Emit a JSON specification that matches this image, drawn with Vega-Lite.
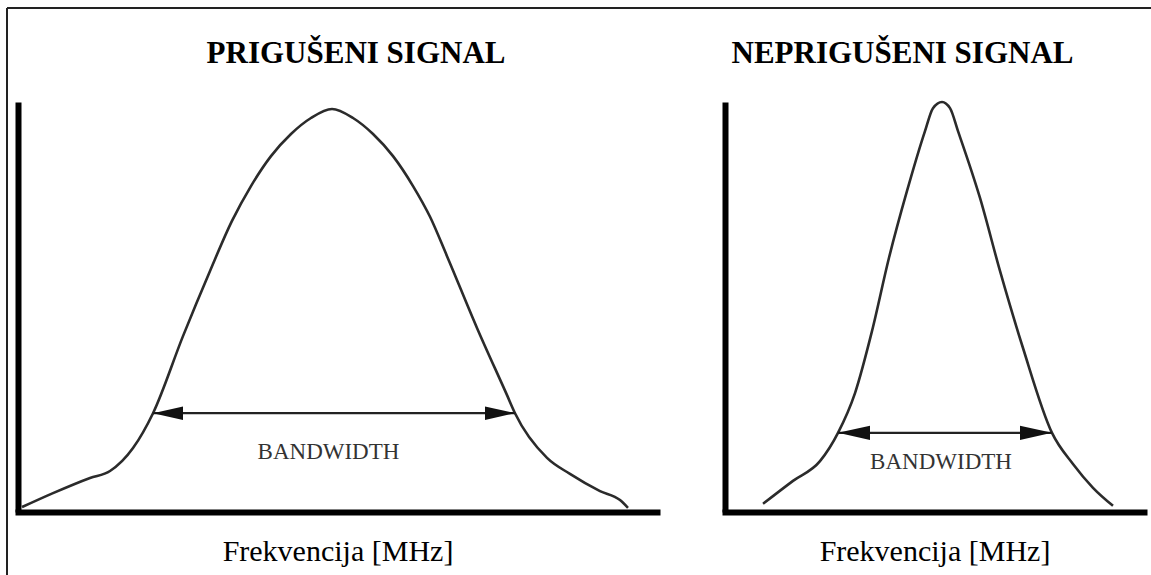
{
  "$schema": "https://vega.github.io/schema/vega-lite/v6.json",
  "padding": {"left": 6, "top": 6, "right": 0, "bottom": 0},
  "background": "white",
  "bounds": "flush",
  "spacing": 68,
  "config": {
    "view": {"stroke": null},
    "font": "Liberation Serif",
    "axis": {"labels": false, "ticks": false, "grid": false, "domainColor": "#000", "domainWidth": 6, "titleFont": "Liberation Serif", "titleFontSize": 30, "titleFontWeight": "normal", "titleColor": "#000"},
    "axisX": {"domainCap": "square", "titleBaseline": "alphabetic", "titleY": 48},
    "style": {"guide-title": {"font": "Liberation Serif", "fontSize": 30, "fontWeight": "normal"}}
  },
  "resolve": {"scale": {"x": "independent", "y": "independent"}},
  "datasets": {
    "frame": [
      {"f": -1.721, "f2": 178.7, "a": 1.2293, "a2": 1.2293},
      {"f": -1.721, "f2": -1.721, "a": 1.2293, "a2": -0.17}
    ],
    "damped_title": [{"f": 52.9, "a": 1.095, "label": "PRIGUŠENI SIGNAL"}],
    "damped": [
      {"f": 0.63, "a": 0.012}, {"f": 5.48, "a": 0.046}, {"f": 11.27, "a": 0.083}, {"f": 14.4, "a": 0.1},
      {"f": 18.0, "a": 0.156}, {"f": 21.13, "a": 0.241}, {"f": 25.82, "a": 0.429}, {"f": 30.05, "a": 0.588},
      {"f": 33.49, "a": 0.71}, {"f": 36.46, "a": 0.795}, {"f": 39.59, "a": 0.868}, {"f": 42.72, "a": 0.922},
      {"f": 45.85, "a": 0.961}, {"f": 49.14, "a": 0.983}, {"f": 52.43, "a": 0.961}, {"f": 55.56, "a": 0.922},
      {"f": 58.69, "a": 0.868}, {"f": 61.82, "a": 0.795}, {"f": 64.48, "a": 0.72}, {"f": 67.14, "a": 0.624},
      {"f": 71.83, "a": 0.449}, {"f": 76.53, "a": 0.285}, {"f": 77.78, "a": 0.241}, {"f": 82.79, "a": 0.132},
      {"f": 86.38, "a": 0.093}, {"f": 91.08, "a": 0.051}, {"f": 94.21, "a": 0.029}, {"f": 95.46, "a": 0.01}
    ],
    "damped_band": [{"f": 21.13, "f2": 77.78, "a": 0.241}],
    "damped_heads": [{"f": 21.13, "a": 0.241, "dir": "left"}, {"f": 77.78, "a": 0.241, "dir": "right"}],
    "damped_label": [{"f": 48.59, "a": 0.129, "label": "BANDWIDTH"}],
    "undamped_title": [{"f": 42.36, "a": 1.095, "label": "NEPRIGUŠENI SIGNAL"}],
    "undamped": [
      {"f": 9.07, "a": 0.02}, {"f": 16.23, "a": 0.076}, {"f": 22.67, "a": 0.124}, {"f": 26.97, "a": 0.193},
      {"f": 31.03, "a": 0.29}, {"f": 35.08, "a": 0.441}, {"f": 39.14, "a": 0.62}, {"f": 43.44, "a": 0.783},
      {"f": 47.73, "a": 0.929}, {"f": 49.64, "a": 0.985}, {"f": 51.79, "a": 1.0}, {"f": 53.7, "a": 0.985},
      {"f": 55.61, "a": 0.929}, {"f": 60.86, "a": 0.766}, {"f": 65.63, "a": 0.588}, {"f": 71.12, "a": 0.4},
      {"f": 78.04, "a": 0.193}, {"f": 83.05, "a": 0.117}, {"f": 87.83, "a": 0.059}, {"f": 92.6, "a": 0.015}
    ],
    "undamped_band": [{"f": 26.97, "f2": 78.04, "a": 0.193}],
    "undamped_heads": [{"f": 26.97, "a": 0.193, "dir": "left"}, {"f": 78.04, "a": 0.193, "dir": "right"}],
    "undamped_label": [{"f": 51.55, "a": 0.105, "label": "BANDWIDTH"}]
  },
  "hconcat": [
    {
      "width": 639,
      "height": 410,
      "encoding": {
        "x": {"field": "f", "type": "quantitative", "scale": {"domain": [0, 100], "nice": false, "zero": false}, "axis": {"title": "Frekvencija [MHz]", "titleFont": "Liberation Serif", "titleFontSize": 30, "titleFontWeight": "normal"}},
        "y": {"field": "a", "type": "quantitative", "scale": {"domain": [0, 1], "nice": false, "zero": false}, "axis": {"title": null}}
      },
      "layer": [
        {"data": {"name": "frame"}, "mark": {"type": "rule", "color": "#222", "strokeWidth": 2}, "encoding": {"x2": {"field": "f2"}, "y2": {"field": "a2"}}},
        {"data": {"name": "damped_title"}, "mark": {"type": "text", "font": "Liberation Serif", "fontSize": 31, "fontWeight": "bold", "color": "#000", "baseline": "alphabetic", "align": "center"}, "encoding": {"text": {"field": "label"}}},
        {"data": {"name": "damped"}, "mark": {"type": "line", "interpolate": "monotone", "color": "#2b2b2b", "strokeWidth": 2.6}, "encoding": {}},
        {"data": {"name": "damped_band"}, "mark": {"type": "rule", "color": "#222", "strokeWidth": 2.2}, "encoding": {"x2": {"field": "f2"}}},
        {"data": {"name": "damped_heads"}, "mark": {"type": "point", "filled": true, "color": "#111", "opacity": 1, "size": 900, "strokeWidth": 0}, "encoding": {"shape": {"field": "dir", "type": "nominal", "scale": {"domain": ["left", "right"], "range": ["M0,0L2,-0.45L2,0.45Z", "M0,0L-2,-0.45L-2,0.45Z"]}, "legend": null}}},
        {"data": {"name": "damped_label"}, "mark": {"type": "text", "font": "Liberation Serif", "fontSize": 23, "color": "#333", "baseline": "alphabetic", "align": "center"}, "encoding": {"text": {"field": "label"}}}
      ]
    },
    {
      "width": 419,
      "height": 410,
      "encoding": {
        "x": {"field": "f", "type": "quantitative", "scale": {"domain": [0, 100], "nice": false, "zero": false}, "axis": {"title": "Frekvencija [MHz]", "titleFont": "Liberation Serif", "titleFontSize": 30, "titleFontWeight": "normal"}},
        "y": {"field": "a", "type": "quantitative", "scale": {"domain": [0, 1], "nice": false, "zero": false}, "axis": {"title": null}}
      },
      "layer": [
        {"data": {"name": "undamped_title"}, "mark": {"type": "text", "font": "Liberation Serif", "fontSize": 31, "fontWeight": "bold", "color": "#000", "baseline": "alphabetic", "align": "center"}, "encoding": {"text": {"field": "label"}}},
        {"data": {"name": "undamped"}, "mark": {"type": "line", "interpolate": "monotone", "color": "#2b2b2b", "strokeWidth": 2.6}, "encoding": {}},
        {"data": {"name": "undamped_band"}, "mark": {"type": "rule", "color": "#222", "strokeWidth": 2.2}, "encoding": {"x2": {"field": "f2"}}},
        {"data": {"name": "undamped_heads"}, "mark": {"type": "point", "filled": true, "color": "#111", "opacity": 1, "size": 1024, "strokeWidth": 0}, "encoding": {"shape": {"field": "dir", "type": "nominal", "scale": {"domain": ["left", "right"], "range": ["M0,0L2,-0.45L2,0.45Z", "M0,0L-2,-0.45L-2,0.45Z"]}, "legend": null}}},
        {"data": {"name": "undamped_label"}, "mark": {"type": "text", "font": "Liberation Serif", "fontSize": 23, "color": "#333", "baseline": "alphabetic", "align": "center"}, "encoding": {"text": {"field": "label"}}}
      ]
    }
  ]
}
